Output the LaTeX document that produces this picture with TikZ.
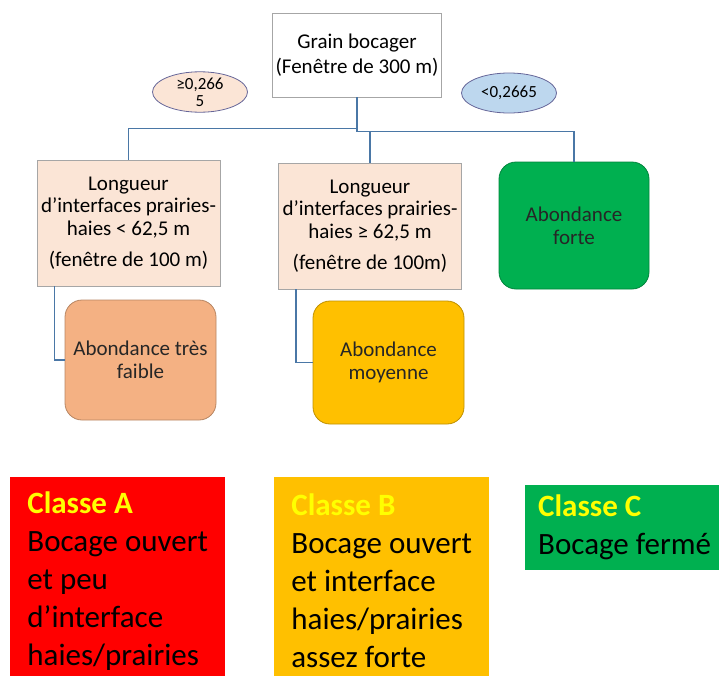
\documentclass[tikz,border=0pt]{standalone}
\usepackage{fontspec}
\setmainfont{Carlito}
\usepackage{tikz}
\usetikzlibrary{positioning,calc,shapes}

\definecolor{peche}{HTML}{FBE5D6}
\definecolor{saumon}{HTML}{F4B183}
\definecolor{jaune}{HTML}{FFC000}
\definecolor{vert}{HTML}{00B050}
\definecolor{bleuclair}{HTML}{BDD7EE}
\definecolor{lienbleu}{HTML}{4A77A6}
\definecolor{grisbord}{HTML}{A6A6A6}
\definecolor{jaunetxt}{HTML}{FFFF00}

\begin{document}
\begin{tikzpicture}[x=1pt,y=-1pt]
		\tikzset{lien/.style={draw=lienbleu, line width=1.6pt},
			cadre/.style={draw=grisbord, thick, fill=white, minimum width=168, minimum height=84, align=center, font=\fontsize{21}{25}\selectfont},
			seuil/.style={ellipse, draw=gray!80!blue, thick, minimum width=95, minimum height=40, inner sep=0pt, align=center, font=\fontsize{17}{17}\selectfont},
			critere/.style={draw=grisbord, thick, fill=peche, minimum width=183, minimum height=126, inner sep=0pt, align=center, font=\fontsize{21}{22.5}\selectfont},
			abond/.style={draw=#1!75!black, fill=#1, thick, rounded corners=17, minimum width=151, minimum height=122, inner sep=0pt, align=center, text=black!85, font=\fontsize{21}{23}\selectfont},
			classe/.style={fill=#1, anchor=north west, inner xsep=13, inner ysep=0pt, align=left, font=\fontsize{31}{38}\selectfont}}
		\useasboundingbox (0,0) rectangle (719,675);
		% arbre
		\node[cadre] (grain) at (357,55) {Grain bocager\\(Fenêtre de 300 m)};
		\node[seuil, fill=peche] (sup) at (200,92) {≥0,266\\5};
		\node[seuil, fill=bleuclair] (inf) at (509,93) {<0,2665};
		\node[critere] (lcrit) at (128.5,223) {Longueur\\d’interfaces prairies-\\haies < 62,5 m\\[9pt](fenêtre de 100 m)};
		\node[critere] (mcrit) at (370,226) {Longueur\\d’interfaces prairies-\\haies ≥ 62,5 m\\[9pt](fenêtre de 100m)};
		\node[abond=vert, minimum width=150, minimum height=127] (forte) at (574,225.5) {Abondance\\forte};
		\node[abond=saumon, minimum height=120] (faible) at (140.5,360) {Abondance très\\faible};
		\node[abond=jaune, minimum height=123] (moyenne) at (388.5,362.5) {Abondance\\moyenne};
		\draw[lien] (grain.south) -- ++(0,31) coordinate (j1) -| (lcrit.north);
		\draw[lien] (j1) -- ++(0,3) coordinate (j2) -| (forte.north);
		\draw[lien] (j2) -| (mcrit.north);
		\draw[lien] ([xshift=18pt]lcrit.south west) |- (faible.west);
		\draw[lien] ([xshift=18pt]mcrit.south west) |- (moyenne.west);
		% classes
		\node[classe=red, minimum width=215, minimum height=208] (classA) at (10,477) {{\color{jaunetxt}\bfseries Classe A}\\Bocage ouvert\\et peu\\d’interface\\haies/prairies};
		\node[classe=jaune, minimum width=215, minimum height=208] (classB) at (274,477) {{\color{jaunetxt}\bfseries Classe B}\\Bocage ouvert\\et interface\\haies/prairies\\assez forte};
		\node[classe=vert, minimum width=194, minimum height=85] (classC) at (525,485) {{\color{jaunetxt}\bfseries Classe C}\\Bocage fermé};
	\end{tikzpicture}
\end{document}
